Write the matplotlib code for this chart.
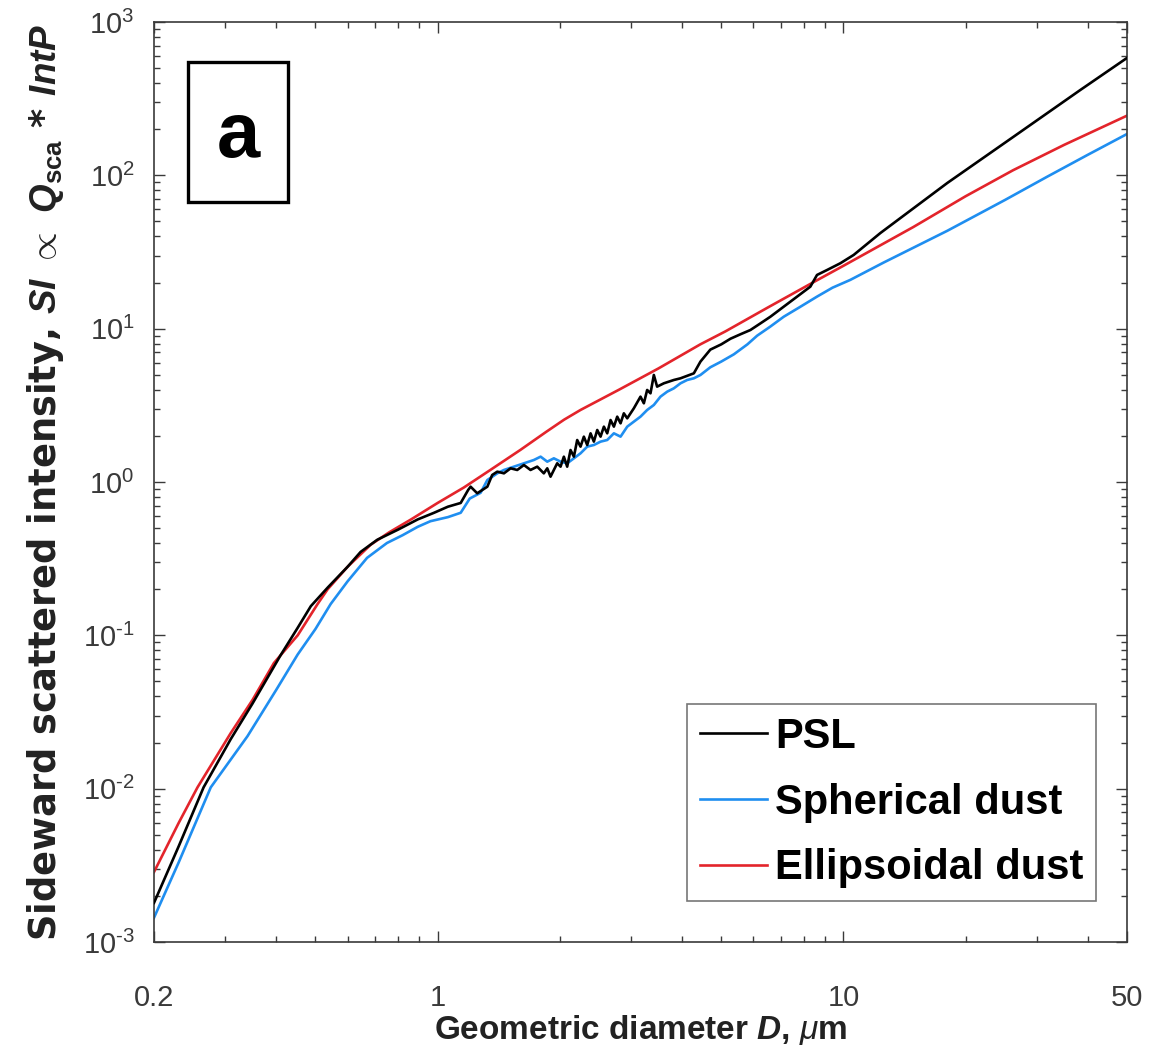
import matplotlib
matplotlib.use("Agg")
import matplotlib.pyplot as plt
from matplotlib.patches import Rectangle
from matplotlib.ticker import FixedLocator, FixedFormatter, LogLocator, NullFormatter

# ---------------- data ----------------
# PSL
d_psl = [0.2, 0.23, 0.265, 0.309, 0.35, 0.41, 0.452, 0.487, 0.536, 0.6, 0.646, 0.71, 0.8, 0.893,
         0.98, 1.06, 1.14, 1.19, 1.206, 1.252, 1.326, 1.363, 1.403, 1.457, 1.513, 1.571, 1.632,
         1.694, 1.760, 1.827, 1.863, 1.898, 1.934, 1.971, 2.009, 2.047, 2.086, 2.126, 2.167,
         2.208, 2.250, 2.293, 2.337, 2.382, 2.427, 2.474, 2.521, 2.569, 2.618, 2.668, 2.719,
         2.771, 2.824, 2.877, 2.933, 3.045, 3.162, 3.223, 3.284, 3.347, 3.411, 3.475, 3.610,
         3.821, 3.968, 4.280, 4.444, 4.70, 5.00, 5.27, 5.58, 5.90, 6.25, 6.61, 7.13, 7.69, 8.29,
         8.61, 9.12, 9.83, 10.6, 12.33, 18.04, 26.22, 38.35, 50.0]
si_psl = [1.8e-3, 4.2e-3, 0.0102, 0.021, 0.036, 0.074, 0.112, 0.155, 0.205, 0.28, 0.35, 0.42,
          0.49, 0.57, 0.63, 0.69, 0.73, 0.89, 0.932, 0.844, 0.932, 1.111, 1.168, 1.139, 1.228,
          1.198, 1.291, 1.198, 1.259, 1.139, 1.228, 1.083, 1.198, 1.324, 1.259, 1.463, 1.259,
          1.617, 1.463, 1.879, 1.700, 1.976, 1.743, 2.077, 1.833, 2.184, 1.976, 2.296, 2.077,
          2.537, 2.296, 2.668, 2.414, 2.805, 2.602, 3.024, 3.603, 3.260, 3.983, 3.788, 4.989,
          4.187, 4.402, 4.627, 4.745, 5.114, 6.1, 7.3, 7.9, 8.6, 9.2, 9.8, 10.84, 11.97, 13.92,
          16.18, 18.79, 22.4, 24.15, 26.71, 30.25, 42.0, 89.2, 178.0, 360.0, 583.0]

# Spherical dust
d_sph = [0.2, 0.23, 0.276, 0.34, 0.4, 0.452, 0.5, 0.545, 0.6, 0.67, 0.75, 0.82, 0.893, 0.96,
         1.06, 1.14, 1.2, 1.276, 1.326, 1.403, 1.457, 1.542, 1.632, 1.727, 1.794, 1.863, 1.934,
         2.009, 2.086, 2.167, 2.250, 2.337, 2.427, 2.521, 2.618, 2.719, 2.824, 2.933, 3.045,
         3.162, 3.284, 3.411, 3.542, 3.680, 3.821, 3.968, 4.121, 4.280, 4.444, 4.70, 5.0, 5.37,
         5.8, 6.13, 6.6, 7.13, 7.8, 8.61, 9.4, 10.4, 12.57, 18.04, 25.0, 31.8, 40.0, 50.0]
si_sph = [1.44e-3, 3.3e-3, 0.0102, 0.022, 0.044, 0.075, 0.11, 0.16, 0.225, 0.32, 0.40, 0.45,
          0.51, 0.555, 0.59, 0.63, 0.78, 0.85, 1.03, 1.139, 1.198, 1.259, 1.324, 1.392, 1.463,
          1.357, 1.427, 1.357, 1.324, 1.427, 1.538, 1.70, 1.743, 1.833, 1.879, 2.077, 1.976,
          2.296, 2.475, 2.668, 2.949, 3.179, 3.603, 3.884, 4.083, 4.402, 4.627, 4.745, 4.989,
          5.6, 6.1, 6.8, 7.9, 9.0, 10.3, 11.97, 13.8, 16.18, 18.5, 20.8, 27.0, 43.5, 69.0, 98.0,
          136.0, 186.0]

# Ellipsoidal dust
d_ell = [0.2, 0.23, 0.256, 0.309, 0.35, 0.395, 0.452, 0.506, 0.536, 0.6, 0.684, 0.76, 0.86,
         1.0, 1.16, 1.35, 1.6, 1.85, 2.05, 2.25, 2.8, 3.5, 4.44, 5.12, 6.5, 8.44, 10.0, 14.87,
         20.0, 26.2, 35.0, 50.0]
si_ell = [2.86e-3, 5.97e-3, 0.0102, 0.023, 0.038, 0.066, 0.1, 0.16, 0.2, 0.28, 0.39, 0.47,
          0.57, 0.73, 0.92, 1.2, 1.62, 2.12, 2.55, 2.95, 4.0, 5.5, 7.9, 9.6, 13.7, 20.1, 25.7,
          46.0, 73.0, 108.0, 158.0, 245.0]

series_labels = ["PSL", "Spherical dust", "Ellipsoidal dust"]
series_colors = ["#000000", "#1f8ef0", "#e3242b"]

x_major = [0.2, 1, 10, 50]
x_major_labels = ["0.2", "1", "10", "50"]
x_minor = [0.3, 0.4, 0.5, 0.6, 0.7, 0.8, 0.9, 2, 3, 4, 5, 6, 7, 8, 9, 20, 30, 40]
y_exponents = [-3, -2, -1, 0, 1, 2, 3]

# ---------------- style ----------------
plt.rcParams["font.family"] = ["Liberation Sans", "DejaVu Sans"]
plt.rcParams["axes.unicode_minus"] = False
plt.rcParams["mathtext.fontset"] = "custom"
plt.rcParams["mathtext.rm"] = "Liberation Sans"
plt.rcParams["mathtext.it"] = "Liberation Sans:italic"
plt.rcParams["mathtext.bf"] = "Liberation Sans:bold"
plt.rcParams["mathtext.bfit"] = "Liberation Sans:bold:italic"

axis_gray = "#3a3a3a"

fig = plt.figure(figsize=(11.64, 10.53), dpi=100)
ax = fig.add_axes([154 / 1164, 111 / 1053, 973 / 1164, 920 / 1053])

lw = 1.9
l1, = ax.plot(d_psl, si_psl, color=series_colors[0], lw=lw, zorder=3)
l2, = ax.plot(d_sph, si_sph, color=series_colors[1], lw=lw, zorder=2)
l3, = ax.plot(d_ell, si_ell, color=series_colors[2], lw=lw, zorder=2.5)

ax.set_xscale("log")
ax.set_yscale("log")
ax.set_xlim(0.2, 50)
ax.set_ylim(1e-3, 1e3)

ax.xaxis.set_major_locator(FixedLocator(x_major))
ax.xaxis.set_major_formatter(FixedFormatter(x_major_labels))
ax.xaxis.set_minor_locator(FixedLocator(x_minor))
ax.xaxis.set_minor_formatter(NullFormatter())


def pow_label(e):
    if e < 0:
        return r"$\mathdefault{10^{\text{-}%d}}$" % (-e)
    return r"$\mathdefault{10^{%d}}$" % e


ax.yaxis.set_major_locator(FixedLocator([10.0 ** e for e in y_exponents]))
ax.yaxis.set_major_formatter(FixedFormatter([pow_label(e) for e in y_exponents]))
ax.yaxis.set_minor_locator(LogLocator(base=10, subs=range(2, 10), numticks=20))
ax.yaxis.set_minor_formatter(NullFormatter())

ax.tick_params(which="both", direction="in", top=True, right=True, colors=axis_gray,
               labelcolor=axis_gray, width=1.0)
ax.tick_params(which="major", length=8, labelsize=21)
ax.tick_params(axis="x", which="major", pad=30)
ax.tick_params(axis="y", which="major", pad=14)
ax.tick_params(which="minor", length=4.5)
for sp in ax.spines.values():
    sp.set_color(axis_gray)
    sp.set_linewidth(1.2)

ax.set_xlabel(r"Geometric diameter $\mathbfit{D}$, $\mu$m", fontsize=24, fontweight="bold",
              color="#222222", labelpad=1)
ax.set_ylabel(r"Sideward scattered intensity, $\mathbfit{SI}$ $\propto$ "
              r"$\mathbfit{Q}_{\mathbf{sca}}$ * $\mathbfit{IntP}$",
              fontsize=26.5, fontweight="bold", color="#222222",
              family=["DejaVu Sans"])
ax.yaxis.set_label_coords(-0.09, 0.5)

# panel tag
ax.add_patch(Rectangle((0.035, 0.8043), 0.1027, 0.1522, transform=ax.transAxes,
                       fill=False, edgecolor="black", lw=2.4, zorder=5))
ax.text(0.0864, 0.876, "a", transform=ax.transAxes, ha="center", va="center",
        fontsize=56, fontweight="bold", family=["Liberation Sans"], zorder=6)

leg = ax.legend([l1, l2, l3], series_labels, loc="lower right",
                bbox_to_anchor=(0.968, 0.0446), borderaxespad=0.0,
                prop={"family": ["Liberation Sans"], "weight": "bold", "size": 30},
                frameon=True, fancybox=False, edgecolor="#555555",
                handlelength=1.6, handletextpad=0.2, labelspacing=0.62,
                borderpad=0.3)
leg.get_frame().set_linewidth(1.2)
for h in leg.get_lines():
    h.set_linewidth(1.9)

fig.savefig("out.png", dpi=100, facecolor="white")
